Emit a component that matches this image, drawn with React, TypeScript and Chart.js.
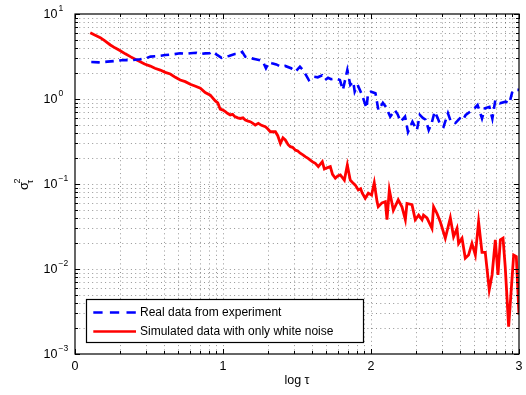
import { useEffect, useRef } from "react";
import { Chart, registerables } from "chart.js";

Chart.register(...registerables);

// Allan variance vs. averaging time (x in log10 τ, y in σ²_τ)
const realLogTau = [
  0.11, 0.16, 0.22, 0.27, 0.33, 0.38, 0.44, 0.48, 0.51, 0.56, 0.61, 0.66, 0.71, 0.75, 0.78, 0.82,
  0.85, 0.88, 0.91, 0.93, 0.96, 0.99, 1.02, 1.04, 1.08, 1.11, 1.13, 1.15, 1.18, 1.22, 1.25, 1.27,
  1.29, 1.31, 1.33, 1.36, 1.39, 1.42, 1.46, 1.49, 1.52, 1.54, 1.56, 1.58, 1.61, 1.64, 1.67, 1.69,
  1.71, 1.73, 1.76, 1.79, 1.81, 1.84, 1.86, 1.88, 1.89, 1.91, 1.94, 1.97, 1.98, 2.0, 2.03, 2.05,
  2.08, 2.1, 2.13, 2.16, 2.18, 2.2, 2.23, 2.25, 2.28, 2.31, 2.33, 2.35, 2.37, 2.39, 2.41, 2.43,
  2.45, 2.47, 2.49, 2.52, 2.54, 2.57, 2.6, 2.62, 2.64, 2.67, 2.7, 2.72, 2.75, 2.77, 2.8, 2.82,
  2.84, 2.87, 2.91, 2.935, 2.955, 2.98, 3.0,
];
const realSigma2 = [
  2.72, 2.7, 2.75, 2.8, 2.88, 2.86, 2.93, 3.02, 3.15, 3.2, 3.29, 3.35, 3.45, 3.4, 3.45, 3.5,
  3.38, 3.44, 3.45, 3.62, 3.3, 3.05, 3.15, 3.21, 3.38, 3.4, 3.58, 3.15, 3.05, 2.93, 2.85, 2.75,
  2.3, 2.7, 2.63, 2.55, 2.4, 2.45, 2.3, 2.1, 2.4, 2.2, 1.92, 1.67, 1.83, 1.8, 1.9, 1.67,
  1.78, 1.71, 1.74, 1.67, 1.28, 2.19, 1.46, 1.6, 1.22, 1.46, 1.11, 0.78, 1.17, 1.22, 1.17, 0.74,
  0.9, 0.81, 0.62, 0.74, 0.66, 0.54, 0.62, 0.41, 0.54, 0.43, 0.65, 0.6, 0.57, 0.43, 0.52, 0.71,
  0.6, 0.49, 0.47, 0.68, 0.54, 0.52, 0.59, 0.56, 0.65, 0.71, 0.78, 0.85, 0.59, 0.78, 0.81, 0.59,
  0.97, 0.89, 0.93, 0.89, 1.22, 1.28, 1.28,
];

const simLogTau = [
  0.103, 0.13, 0.171, 0.2, 0.239, 0.27, 0.306, 0.34, 0.374, 0.41, 0.441, 0.47, 0.509, 0.54, 0.576,
  0.61, 0.644, 0.678, 0.711, 0.745, 0.779, 0.81, 0.847, 0.88, 0.914, 0.948, 0.965, 0.981, 1.0,
  1.016, 1.03, 1.049, 1.065, 1.08, 1.1, 1.117, 1.135, 1.151, 1.17, 1.184, 1.2, 1.218, 1.239, 1.26,
  1.286, 1.3, 1.32, 1.354, 1.37, 1.388, 1.405, 1.421, 1.44, 1.455, 1.47, 1.49, 1.505, 1.522, 1.54,
  1.556, 1.575, 1.59, 1.61, 1.624, 1.644, 1.671, 1.685, 1.698, 1.725, 1.74, 1.759, 1.775, 1.793,
  1.82, 1.84, 1.86, 1.875, 1.894, 1.914, 1.93, 1.941, 1.961, 1.982, 2.004, 2.022, 2.041, 2.049,
  2.074, 2.097, 2.108, 2.124, 2.151, 2.184, 2.209, 2.232, 2.243, 2.277, 2.299, 2.322, 2.345, 2.355,
  2.378, 2.412, 2.423, 2.446, 2.468, 2.502, 2.536, 2.558, 2.581, 2.592, 2.615, 2.637, 2.659, 2.682,
  2.705, 2.727, 2.75, 2.772, 2.799, 2.818, 2.84, 2.858, 2.874, 2.892, 2.907, 2.93, 2.964, 2.982, 3.0,
];
const simSigma2 = [
  6.03, 5.7, 5.27, 4.85, 4.32, 4.0, 3.7, 3.4, 3.15, 2.92, 2.75, 2.58, 2.44, 2.3, 2.19,
  2.06, 1.97, 1.8, 1.67, 1.6, 1.49, 1.42, 1.34, 1.19, 1.11, 0.95, 0.9, 0.76, 0.74,
  0.71, 0.68, 0.65, 0.66, 0.62, 0.6, 0.59, 0.6, 0.566, 0.55, 0.541, 0.52, 0.494, 0.517, 0.49,
  0.472, 0.45, 0.412, 0.412, 0.37, 0.3, 0.35, 0.33, 0.29, 0.275, 0.27, 0.25, 0.245, 0.23, 0.22,
  0.21, 0.2, 0.191, 0.18, 0.175, 0.16, 0.183, 0.15, 0.154, 0.16, 0.13, 0.117, 0.124, 0.128,
  0.111, 0.167, 0.111, 0.104, 0.097, 0.085, 0.088, 0.078, 0.068, 0.078, 0.074, 0.1035, 0.062, 0.054,
  0.06, 0.062, 0.038, 0.085, 0.049, 0.065, 0.054, 0.038, 0.059, 0.057, 0.038, 0.043, 0.038, 0.043,
  0.04, 0.03, 0.054, 0.045, 0.036, 0.023, 0.04, 0.024, 0.03, 0.02, 0.023, 0.0134, 0.0146, 0.02,
  0.0146, 0.036, 0.0157, 0.0157, 0.0057, 0.0085, 0.022, 0.0085, 0.022, 0.023, 0.0106, 0.0021, 0.0146, 0.014, 0.0029,
];

const xTickLabels = ["0", "1", "2", "3"];
const yTickExponents = [-3, -2, -1, 0, 1];
const seriesLabels = ["Real data from experiment", "Simulated data with only white noise"];
const xAxisTitle = "log τ";

const FONT = '"Liberation Sans", Arial, Helvetica, sans-serif';
const BLUE = "#0000ff";
const RED = "#ff0000";

// grid/tick positions: decades plus log-spaced minors (k = 2..9)
function xGridValues(): { v: number; major: boolean }[] {
  const out: { v: number; major: boolean }[] = [];
  for (let d = 0; d <= 3; d++) {
    out.push({ v: d, major: true });
    if (d < 3) for (let k = 2; k <= 9; k++) out.push({ v: d + Math.log10(k), major: false });
  }
  return out;
}
function yGridValues(): { v: number; major: boolean }[] {
  const out: { v: number; major: boolean }[] = [];
  for (let e = -3; e <= 1; e++) {
    out.push({ v: Math.pow(10, e), major: true });
    if (e < 1) for (let k = 2; k <= 9; k++) out.push({ v: k * Math.pow(10, e), major: false });
  }
  return out;
}

const axesPlugin = {
  id: "boxedAxes",
  beforeDatasetsDraw(chart: any) {
    const { ctx, chartArea: a, scales } = chart;
    const xs = scales.x;
    const ys = scales.y;
    ctx.save();
    ctx.strokeStyle = "rgba(0,0,0,0.42)";
    ctx.lineWidth = 1;
    ctx.setLineDash([1, 3.3]);
    for (const g of xGridValues()) {
      if (g.v <= 0 || g.v >= 3) continue;
      const px = Math.round(xs.getPixelForValue(g.v)) + 0.5;
      ctx.beginPath();
      ctx.moveTo(px, a.top);
      ctx.lineTo(px, a.bottom);
      ctx.stroke();
    }
    for (const g of yGridValues()) {
      if (g.v <= 1e-3 || g.v >= 10) continue;
      const py = Math.round(ys.getPixelForValue(g.v)) + 0.5;
      ctx.beginPath();
      ctx.moveTo(a.left, py);
      ctx.lineTo(a.right, py);
      ctx.stroke();
    }
    ctx.restore();
  },
  afterDatasetsDraw(chart: any) {
    const { ctx, chartArea: a, scales } = chart;
    const xs = scales.x;
    const ys = scales.y;
    ctx.save();
    ctx.setLineDash([]);

    // inward tick marks on all four sides
    ctx.strokeStyle = "#000";
    ctx.lineWidth = 1;
    for (const g of xGridValues()) {
      const px = Math.round(xs.getPixelForValue(g.v)) + 0.5;
      const len = g.major ? 5 : 3;
      ctx.beginPath();
      ctx.moveTo(px, a.bottom);
      ctx.lineTo(px, a.bottom - len);
      ctx.moveTo(px, a.top);
      ctx.lineTo(px, a.top + len);
      ctx.stroke();
    }
    for (const g of yGridValues()) {
      const py = Math.round(ys.getPixelForValue(g.v)) + 0.5;
      const len = g.major ? 5 : 3;
      ctx.beginPath();
      ctx.moveTo(a.left, py);
      ctx.lineTo(a.left + len, py);
      ctx.moveTo(a.right, py);
      ctx.lineTo(a.right - len, py);
      ctx.stroke();
    }

    // frame
    ctx.lineWidth = 1.2;
    ctx.strokeRect(a.left, a.top, a.right - a.left, a.bottom - a.top);

    // x tick labels
    ctx.fillStyle = "#000";
    ctx.font = `12.5px ${FONT}`;
    ctx.textAlign = "center";
    ctx.textBaseline = "middle";
    xTickLabels.forEach((t, i) => {
      ctx.fillText(t, xs.getPixelForValue(i), a.bottom + 12.5);
    });

    // y tick labels: 10 with superscript exponent
    yTickExponents.forEach((e) => {
      const py = ys.getPixelForValue(Math.pow(10, e));
      ctx.font = `12.5px ${FONT}`;
      ctx.textAlign = "right";
      ctx.textBaseline = "middle";
      ctx.fillText("10", a.left - 17.5, py + 0.5);
      ctx.font = `8.5px ${FONT}`;
      ctx.textAlign = "left";
      ctx.fillText(e < 0 ? "\u2212" + Math.abs(e) : String(e), a.left - 16.5, py - 5.5);
    });

    // x axis title
    ctx.font = `12.5px ${FONT}`;
    ctx.textAlign = "center";
    ctx.textBaseline = "middle";
    ctx.fillText(xAxisTitle, (a.left + a.right) / 2, a.bottom + 27);

    // y axis title: σ²_τ, rotated
    ctx.save();
    ctx.translate(30, (a.top + a.bottom) / 2);
    ctx.rotate(-Math.PI / 2);
    ctx.textAlign = "left";
    ctx.textBaseline = "alphabetic";
    ctx.font = `13px ${FONT}`;
    ctx.fillText("σ", -6, -2);
    ctx.font = `9px ${FONT}`;
    ctx.fillText("2", 0.5, -10);
    ctx.fillText("τ", 0.5, 3);
    ctx.restore();

    // legend box
    const lx = 86.5;
    const ly = 299.5;
    const lw = 277;
    const lh = 43;
    ctx.fillStyle = "#fff";
    ctx.fillRect(lx, ly, lw, lh);
    ctx.strokeStyle = "#000";
    ctx.lineWidth = 1.2;
    ctx.strokeRect(lx, ly, lw, lh);

    const rows = [
      { y: 312.5, color: BLUE, dash: [9.3, 7.3] },
      { y: 331.5, color: RED, dash: [] as number[] },
    ];
    rows.forEach((r, i) => {
      ctx.save();
      ctx.strokeStyle = r.color;
      ctx.lineWidth = 2.6;
      ctx.setLineDash(r.dash);
      ctx.beginPath();
      ctx.moveTo(93.3, r.y);
      ctx.lineTo(136, r.y);
      ctx.stroke();
      ctx.restore();
      ctx.fillStyle = "#000";
      ctx.font = `12px ${FONT}`;
      ctx.textAlign = "left";
      ctx.textBaseline = "middle";
      ctx.fillText(seriesLabels[i], 140, r.y + 0.5);
    });

    ctx.restore();
  },
};

export default function App() {
  const canvasRef = useRef<HTMLCanvasElement | null>(null);

  useEffect(() => {
    const canvas = canvasRef.current;
    if (!canvas) return;
    const chart = new Chart(canvas, {
      type: "line",
      data: {
        datasets: [
          {
            label: seriesLabels[0],
            data: realLogTau.map((x, i) => ({ x, y: realSigma2[i] })),
            borderColor: BLUE,
            borderWidth: 2.6,
            borderDash: [8.5, 5.5],
            pointRadius: 0,
            fill: false,
            tension: 0,
          },
          {
            label: seriesLabels[1],
            data: simLogTau.map((x, i) => ({ x, y: simSigma2[i] })),
            borderColor: RED,
            borderWidth: 2.8,
            pointRadius: 0,
            fill: false,
            tension: 0,
          },
        ],
      },
      options: {
        responsive: false,
        maintainAspectRatio: false,
        animation: false,
        events: [],
        layout: { padding: { left: 75, top: 14, right: 7, bottom: 41 } },
        plugins: {
          legend: { display: false },
          tooltip: { enabled: false },
          title: { display: false },
        },
        scales: {
          x: {
            type: "linear",
            min: 0,
            max: 3,
            grid: { display: false },
            border: { display: false },
            ticks: { display: false },
            afterFit: (s: any) => {
              s.height = 0;
            },
          },
          y: {
            type: "logarithmic",
            min: 1e-3,
            max: 10,
            grid: { display: false },
            border: { display: false },
            ticks: { display: false },
            afterFit: (s: any) => {
              s.width = 0;
            },
          },
        },
      },
      plugins: [axesPlugin],
    } as any);
    return () => chart.destroy();
  }, []);

  return (
    <div style={{ position: "absolute", left: 0, top: 0, width: 526, height: 395, background: "#fff" }}>
      <canvas ref={canvasRef} width={526} height={395} style={{ width: 526, height: 395 }} />
    </div>
  );
}
